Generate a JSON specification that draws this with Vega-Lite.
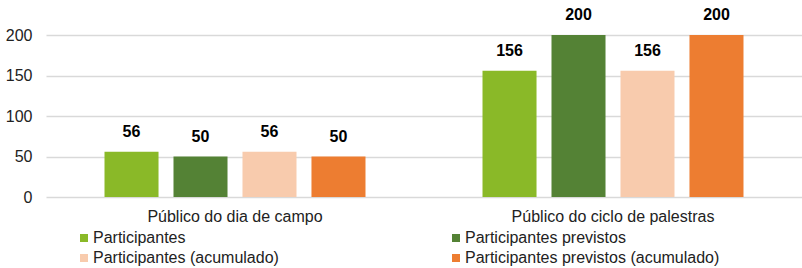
{
  "$schema": "https://vega.github.io/schema/vega-lite/v6.json",
  "width": 756,
  "height": 162,
  "autosize": "none",
  "padding": {"left": 46, "top": 35, "right": 0, "bottom": 71},
  "background": "white",
  "config": {
    "view": {"stroke": null},
    "font": "Liberation Sans"
  },
  "data": {
    "values": [
      {"categoria": "Público do dia de campo", "serie": "Participantes", "valor": 56},
      {"categoria": "Público do dia de campo", "serie": "Participantes previstos", "valor": 50},
      {"categoria": "Público do dia de campo", "serie": "Participantes (acumulado)", "valor": 56},
      {"categoria": "Público do dia de campo", "serie": "Participantes previstos (acumulado)", "valor": 50},
      {"categoria": "Público do ciclo de palestras", "serie": "Participantes", "valor": 156},
      {"categoria": "Público do ciclo de palestras", "serie": "Participantes previstos", "valor": 200},
      {"categoria": "Público do ciclo de palestras", "serie": "Participantes (acumulado)", "valor": 156},
      {"categoria": "Público do ciclo de palestras", "serie": "Participantes previstos (acumulado)", "valor": 200}
    ]
  },
  "encoding": {
    "x": {
      "field": "categoria",
      "type": "nominal",
      "sort": ["Público do dia de campo", "Público do ciclo de palestras"],
      "scale": {"paddingInner": 0, "paddingOuter": 0},
      "axis": {
        "title": null,
        "labelAngle": 0,
        "ticks": false,
        "domain": false,
        "labelFontSize": 16,
        "labelColor": "#222222",
        "labelPadding": 11,
        "labelLimit": 400
      }
    },
    "xOffset": {
      "field": "serie",
      "type": "nominal",
      "sort": ["Participantes", "Participantes previstos", "Participantes (acumulado)", "Participantes previstos (acumulado)"],
      "scale": {"paddingInner": 0.217, "paddingOuter": 0.848}
    },
    "y": {
      "field": "valor",
      "type": "quantitative",
      "scale": {"domain": [0, 200]},
      "axis": {
        "title": null,
        "values": [0, 50, 100, 150, 200],
        "ticks": false,
        "domain": false,
        "labelFontSize": 16,
        "labelColor": "#222222",
        "labelPadding": 14,
        "gridColor": "#d9d9d9",
        "gridWidth": 1.5
      }
    }
  },
  "layer": [
    {
      "mark": {"type": "bar"},
      "encoding": {
        "color": {
          "field": "serie",
          "type": "nominal",
          "scale": {
            "domain": ["Participantes", "Participantes (acumulado)", "Participantes previstos", "Participantes previstos (acumulado)"],
            "range": ["#8ab928", "#f8cbad", "#548235", "#ed7d31"]
          },
          "legend": {
            "title": null,
            "orient": "none",
            "legendX": 30,
            "legendY": 195,
            "columns": 2,
            "columnPadding": 169,
            "rowPadding": 4,
            "padding": 0,
            "symbolType": "square",
            "symbolSize": 64,
            "symbolStrokeWidth": 0,
            "labelFontSize": 16,
            "labelColor": "#222222",
            "labelOffset": 1,
            "labelLimit": 400
          }
        }
      }
    },
    {
      "mark": {"type": "text", "dy": -15, "baseline": "alphabetic", "fontWeight": "bold", "fontSize": 16, "color": "#000000"},
      "encoding": {
        "text": {"field": "valor", "type": "quantitative"}
      }
    }
  ]
}
